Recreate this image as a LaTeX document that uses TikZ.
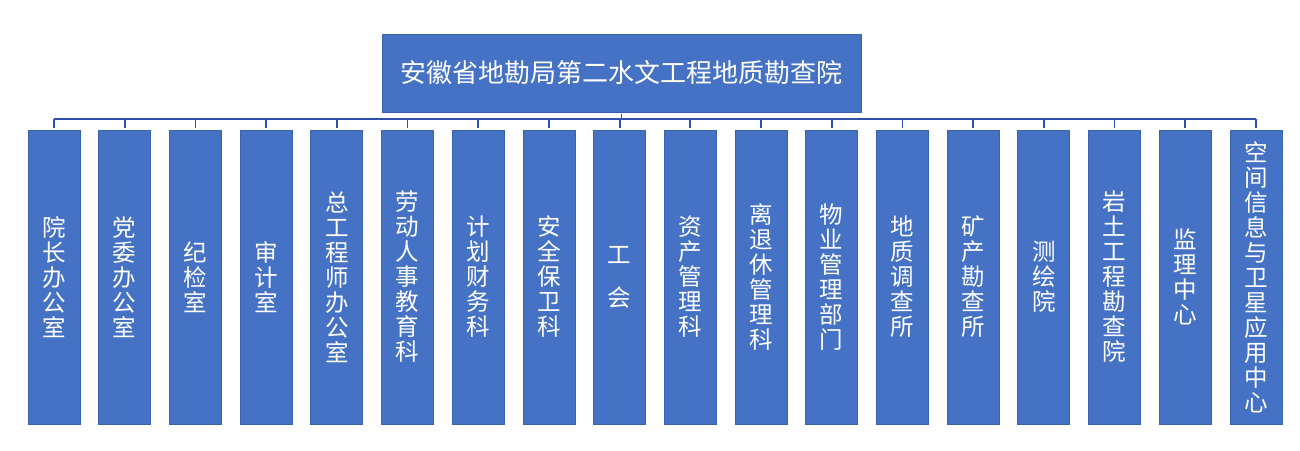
\documentclass[tikz,border=0pt]{standalone}
\usepackage{fontspec}
\newfontfamily\cjk{Noto Sans CJK SC}
\definecolor{boxfill}{RGB}{69,114,196}
\definecolor{boxedge}{RGB}{58,98,178}
\definecolor{busline}{RGB}{48,80,172}
\tikzset{
  topbox/.style={draw=boxedge, line width=0.8pt, fill=boxfill, text=white,
    minimum width=479pt, minimum height=78pt, inner sep=0pt,
    font=\cjk\fontsize{26}{30}\selectfont},
  colbox/.style={draw=boxedge, line width=0.8pt, fill=boxfill, text=white,
    minimum width=52pt, minimum height=294pt, inner sep=0pt, align=center,
    font=\cjk\fontsize{23.5}{25}\selectfont},
  busstyle/.style={draw=busline, line width=2.6pt},
  tickstyle/.style={draw=busline, line width=1.8pt, shorten <=1.5pt}
}
\begin{document}
\begin{tikzpicture}[x=1pt,y=-1pt]
\useasboundingbox (0,0) rectangle (1300,450);
\node[topbox] (top) at (621.5,73) {安徽省地勘局第二水文工程地质勘查院};
\node[colbox] (c0) at (54.0,277) {院\\长\\办\\公\\室};
\node[colbox] (c1) at (124.7,277) {党\\委\\办\\公\\室};
\node[colbox] (c2) at (195.4,277) {纪\\检\\室};
\node[colbox] (c3) at (266.1,277) {审\\计\\室};
\node[colbox] (c4) at (336.8,277) {总\\工\\程\\师\\办\\公\\室};
\node[colbox] (c5) at (407.5,277) {劳\\动\\人\\事\\教\\育\\科};
\node[colbox] (c6) at (478.2,277) {计\\划\\财\\务\\科};
\node[colbox] (c7) at (548.9,277) {安\\全\\保\\卫\\科};
\node[colbox] (c8) at (619.6,277) {工\\[18pt]会};
\node[colbox] (c9) at (690.3,277) {资\\产\\管\\理\\科};
\node[colbox] (c10) at (761.0,277) {离\\退\\休\\管\\理\\科};
\node[colbox] (c11) at (831.7,277) {物\\业\\管\\理\\部\\门};
\node[colbox] (c12) at (902.4,277) {地\\质\\调\\查\\所};
\node[colbox] (c13) at (973.1,277) {矿\\产\\勘\\查\\所};
\node[colbox] (c14) at (1043.8,277) {测\\绘\\院};
\node[colbox] (c15) at (1114.5,277) {岩\\土\\工\\程\\勘\\查\\院};
\node[colbox] (c16) at (1185.2,277) {监\\理\\中\\心};
\node[colbox] (c17) at (1255.9,277) {空\\间\\信\\息\\与\\卫\\星\\应\\用\\中\\心};
\coordinate (busL) at (54,119);
\path[busstyle] (c0.north |- busL) -- (c17.north |- busL);
\path[tickstyle] (top.south) -- (top.south |- busL);
\foreach \i in {0,...,17}{
  \path[tickstyle] (c\i.north) -- (c\i.north |- busL);
}
\end{tikzpicture}
\end{document}
